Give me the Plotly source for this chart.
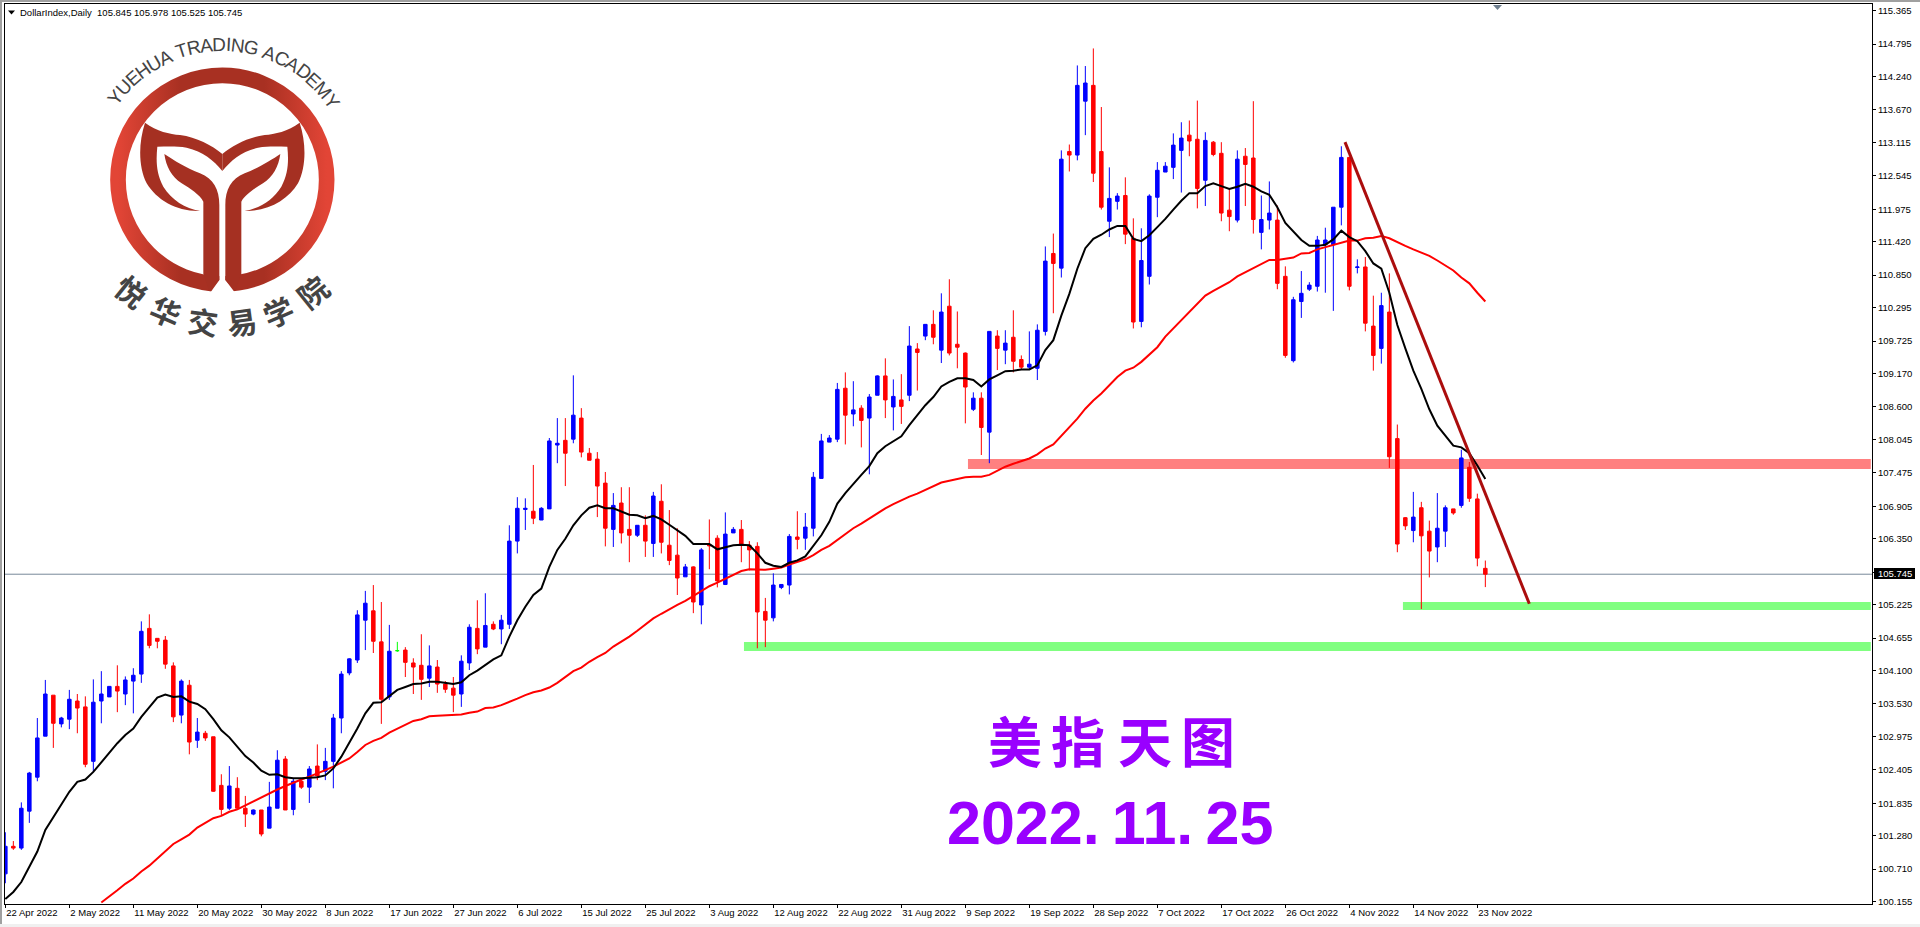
import base64, math
import plotly.graph_objects as go

# ---------- data ----------
bars = list(range(186))
opens = [
100.63,101.10,101.07,101.70,102.28,102.98,103.68,103.19,103.27,103.58,
103.48,102.55,103.58,103.65,103.83,103.70,103.92,104.04,104.82,104.65,
104.62,104.18,103.34,103.85,102.91,103.03,102.97,102.14,101.75,102.09,
101.75,101.65,101.72,101.41,101.75,102.59,101.73,102.21,102.11,102.47,
102.38,102.55,103.29,104.06,104.28,104.96,105.12,104.59,103.65,104.44,
104.45,104.23,104.19,103.97,104.16,103.87,103.80,103.70,104.23,104.82,
104.50,104.89,104.81,104.89,106.31,106.85,106.82,106.67,106.86,107.95,
108.03,108.05,108.41,107.81,107.71,107.30,106.51,106.96,106.51,106.41,
106.58,106.27,106.99,106.24,106.07,105.70,105.87,105.22,106.25,106.36,
105.57,106.45,106.51,106.24,106.22,105.11,105.00,105.52,105.56,106.38,
106.36,106.53,107.38,108.00,108.05,108.92,108.48,108.58,108.41,108.80,
109.13,108.60,108.72,108.80,109.59,109.81,110.01,109.57,110.32,109.67,
109.52,108.56,108.75,108.17,109.81,109.57,109.79,109.41,109.28,109.26,
109.89,111.22,110.97,112.96,112.90,113.82,114.09,112.96,111.77,112.11,
112.21,111.48,110.06,110.83,112.18,112.61,112.69,112.98,113.24,113.17,
112.47,113.12,112.93,111.96,111.79,112.88,112.85,111.58,111.79,111.79,
110.83,109.39,110.40,110.61,110.66,111.37,111.37,112.01,112.86,110.98,
110.99,109.98,109.60,110.22,108.06,106.71,106.49,106.88,106.48,106.21,
106.48,106.86,106.92,107.57,107.03,105.845]
highs = [
101.34,101.19,101.85,102.37,103.29,103.94,103.68,103.31,103.77,103.70,
103.66,103.95,104.09,103.83,104.19,104.00,104.14,104.94,105.06,104.65,
104.69,104.24,103.95,103.94,103.29,103.07,102.97,102.33,102.47,102.28,
101.96,101.73,101.72,102.20,102.74,102.64,102.25,102.23,102.47,102.84,
102.78,103.36,104.09,104.31,105.13,105.46,105.56,105.27,104.88,104.59,
104.50,104.31,104.72,104.53,104.28,103.92,103.99,104.36,104.89,105.30,
105.42,104.94,105.05,106.58,107.06,107.04,107.61,106.89,108.07,108.41,
108.41,109.14,108.58,107.90,107.83,107.49,107.13,107.23,107.23,106.58,
106.75,107.15,107.28,106.84,106.53,105.92,105.88,106.19,106.68,106.41,
106.80,106.55,106.67,106.31,106.29,105.34,105.76,105.57,106.43,106.82,
106.79,107.49,108.14,108.12,109.01,109.19,109.04,108.63,108.82,109.14,
109.43,109.07,109.16,109.98,109.69,110.01,110.25,110.54,110.78,110.23,
109.53,108.85,108.85,109.89,109.91,109.91,110.25,109.48,109.89,110.01,
111.34,111.56,112.98,113.08,114.43,114.42,114.72,113.72,112.69,112.25,
112.52,111.82,111.65,112.23,112.78,112.78,113.27,113.46,113.49,113.83,
113.29,113.14,113.12,112.33,112.98,113.02,113.82,112.21,112.45,112.04,
111.00,110.48,110.92,110.73,111.52,111.66,112.01,113.05,112.86,111.12,
111.16,110.50,110.55,110.88,108.30,106.72,107.15,106.98,106.66,107.13,
106.92,106.86,107.87,107.66,107.12,105.978]
lows = [
100.47,101.04,101.04,101.50,102.21,102.98,102.78,103.13,103.10,103.03,
102.45,102.37,103.20,103.65,103.39,103.51,103.37,103.89,104.48,104.48,
104.13,103.22,103.20,102.67,102.78,102.90,102.03,101.62,101.72,101.75,
101.43,101.63,101.27,101.41,101.75,101.72,101.63,102.08,101.84,102.23,
102.23,102.09,103.03,104.02,104.23,104.45,104.40,103.19,103.60,104.42,
103.99,103.70,103.60,103.82,103.72,103.72,103.39,103.48,104.11,104.38,
104.50,104.79,104.55,104.81,106.10,106.50,106.60,106.67,106.86,107.64,
107.25,107.98,107.74,107.69,106.72,106.22,106.21,106.27,105.95,106.38,
106.04,106.04,106.10,105.90,105.39,105.70,105.08,104.89,105.83,105.52,
105.56,106.45,105.95,105.81,104.48,104.50,104.94,105.49,105.40,106.17,
106.16,106.39,107.38,108.00,108.00,107.96,108.27,107.91,107.45,108.80,
108.41,108.20,108.31,108.70,108.88,109.74,109.67,109.35,109.48,109.26,
108.32,108.53,107.78,107.64,109.23,109.33,109.19,109.23,109.23,109.06,
109.82,110.20,110.81,112.62,112.81,113.24,112.44,111.97,111.50,111.97,
111.38,109.94,109.96,110.69,111.84,112.61,112.49,112.26,112.88,111.99,
112.03,112.88,111.77,111.60,111.75,112.03,111.56,111.29,111.63,110.61,
109.44,109.36,110.12,110.58,110.57,110.55,110.24,111.70,110.59,110.88,
109.89,109.22,109.34,107.56,106.12,106.50,106.29,105.15,105.69,105.95,
106.21,106.76,106.88,106.98,105.88,105.525]
closes = [
101.10,101.07,101.75,102.35,102.95,103.70,103.20,103.29,103.61,103.46,
102.50,103.56,103.70,103.83,103.75,103.94,104.02,104.77,104.53,104.60,
104.21,103.31,103.92,102.88,103.05,102.95,102.04,101.73,102.13,101.75,
101.65,101.72,101.31,101.77,102.57,101.72,102.21,102.11,102.42,102.30,
102.55,103.29,104.04,104.30,105.05,105.25,104.60,103.61,104.43,104.44,
104.24,104.16,103.95,104.18,103.87,103.78,103.68,104.26,104.84,104.47,
104.87,104.81,104.96,106.31,106.87,106.87,106.70,106.87,108.02,107.98,
107.81,108.46,107.83,107.69,107.25,106.53,106.92,106.45,106.41,106.58,
106.31,107.08,106.29,105.98,105.68,105.87,105.27,106.16,106.23,105.63,
106.43,106.51,106.24,106.16,105.10,104.96,105.56,105.57,106.39,106.34,
106.55,107.40,108.02,108.07,108.90,108.46,108.55,108.37,108.77,109.13,
108.72,108.78,108.61,109.64,109.53,110.01,109.79,110.22,109.52,109.62,
108.94,108.75,108.25,109.89,109.60,109.69,109.38,109.28,109.33,109.91,
111.09,111.05,112.83,112.90,114.09,114.13,112.59,112.01,112.16,112.20,
111.55,110.05,111.10,112.20,112.64,112.71,113.07,113.19,113.14,112.33,
113.15,112.91,111.91,111.85,112.83,112.74,111.80,111.80,111.91,110.71,
109.48,110.43,110.54,110.68,111.45,111.45,112.01,112.86,110.66,110.99,
110.03,109.48,110.33,107.75,106.26,106.57,106.72,106.40,106.14,106.53,
106.88,106.79,107.73,107.04,106.02,105.745]
doji_bars = [49]

ma_fast = [
100.20,100.32,100.49,100.75,101.01,101.38,101.60,101.83,102.03,102.20,
102.24,102.37,102.54,102.71,102.86,103.00,103.11,103.31,103.47,103.64,
103.69,103.65,103.66,103.57,103.53,103.44,103.27,103.08,102.96,102.79,
102.64,102.53,102.39,102.32,102.33,102.28,102.26,102.26,102.27,102.28,
102.31,102.43,102.63,102.86,103.11,103.37,103.55,103.56,103.67,103.77,
103.82,103.87,103.88,103.91,103.91,103.89,103.87,103.90,104.02,104.10,
104.19,104.29,104.36,104.68,104.96,105.19,105.39,105.50,105.87,106.16,
106.35,106.58,106.75,106.88,106.92,106.87,106.87,106.82,106.76,106.75,
106.70,106.74,106.68,106.59,106.50,106.40,106.26,106.26,106.26,106.17,
106.21,106.24,106.25,106.24,106.10,105.94,105.89,105.87,105.94,105.98,
106.05,106.22,106.41,106.64,106.95,107.13,107.29,107.44,107.59,107.81,
107.93,108.02,108.10,108.29,108.46,108.63,108.77,108.95,109.03,109.09,
109.09,109.06,108.95,109.07,109.14,109.21,109.22,109.24,109.24,109.31,
109.57,109.74,110.16,110.53,110.96,111.31,111.47,111.54,111.63,111.69,
111.69,111.47,111.43,111.53,111.67,111.81,111.97,112.12,112.25,112.25,
112.37,112.42,112.37,112.32,112.36,112.41,112.36,112.28,112.22,112.01,
111.74,111.59,111.45,111.35,111.35,111.37,111.46,111.61,111.50,111.43,
111.26,111.05,110.96,110.55,110.00,109.60,109.22,108.91,108.56,108.28,
108.10,107.94,107.91,107.81,107.60,107.37]
ma_slow = [None]*12 + [
100.14,100.24,100.35,100.46,100.55,100.67,100.77,100.89,
101.02,101.14,101.22,101.30,101.42,101.50,101.58,101.62,101.69,101.73,
101.80,101.87,101.94,102.00,102.07,102.13,102.19,102.24,102.29,102.34,
102.40,102.46,102.53,102.60,102.71,102.83,102.90,102.95,103.04,103.11,
103.17,103.24,103.27,103.32,103.33,103.34,103.34,103.35,103.38,103.40,
103.46,103.47,103.51,103.56,103.62,103.68,103.73,103.76,103.81,103.89,
103.99,104.09,104.15,104.25,104.33,104.40,104.51,104.59,104.68,104.78,
104.88,104.99,105.07,105.15,105.22,105.29,105.37,105.46,105.54,105.60,
105.67,105.74,105.80,105.83,105.82,105.82,105.84,105.86,105.91,105.96,
106.00,106.07,106.16,106.23,106.33,106.44,106.53,106.61,106.70,106.78,
106.87,106.94,107.01,107.07,107.12,107.18,107.25,107.31,107.34,107.37,
107.40,107.41,107.41,107.44,107.51,107.58,107.63,107.67,107.72,107.79,
107.89,107.96,108.11,108.25,108.40,108.57,108.71,108.83,108.97,109.11,
109.22,109.27,109.37,109.49,109.62,109.80,109.94,110.08,110.22,110.36,
110.50,110.58,110.66,110.73,110.83,110.90,110.97,111.04,111.11,111.11,
111.13,111.15,111.22,111.23,111.29,111.33,111.37,111.41,111.44,111.44,
111.48,111.49,111.52,111.48,111.41,111.35,111.29,111.23,111.18,111.10,
111.01,110.93,110.81,110.71,110.55,110.40]
for arr in (opens, highs, lows, closes, ma_fast, ma_slow):
    assert len(arr) == len(bars), len(arr)

trend_x = [167.46, 190.5]
trend_y = [113.12, 105.24]
bid_price = 105.745
# (first bar, price top, price bottom)
resistance_band = (120.33, 107.712, 107.541)
support_band_a = (174.7, 105.27, 105.134)
support_band_b = (92.33, 104.588, 104.435)

date_ticks = list(range(0, 186, 8))
date_labels = ["22 Apr 2022","2 May 2022","11 May 2022","20 May 2022","30 May 2022","8 Jun 2022",
               "17 Jun 2022","27 Jun 2022","6 Jul 2022","15 Jul 2022","25 Jul 2022","3 Aug 2022",
               "12 Aug 2022","22 Aug 2022","31 Aug 2022","9 Sep 2022","19 Sep 2022","28 Sep 2022",
               "7 Oct 2022","17 Oct 2022","26 Oct 2022","4 Nov 2022","14 Nov 2022","23 Nov 2022"]
price_ticks = [115.365,114.795,114.240,113.670,113.115,112.545,111.975,111.420,110.850,110.295,
               109.725,109.170,108.600,108.045,107.475,106.905,106.350,105.780,105.225,104.655,
               104.100,103.530,102.975,102.405,101.835,101.280,100.710,100.155]

# ---------- page geometry ----------
W, H = 1920, 927
L, R, T, B = 5, 1872, 4, 904
xp = lambda x: (x - L) / (R - L)
yp = lambda y: (B - y) / (B - T)
BAR0, STEP = 5.33, 8.0
XMAX = (R - BAR0) / STEP
XMIN = (L - BAR0) / STEP
PX_PRICE = 15.21 / 891.0
YMAX = 115.365 + (10.67 - T) * PX_PRICE
YMIN = 115.365 - (B - 10.67) * PX_PRICE
UI = "Liberation Sans"

# ---------- logo picture (ring and leaves only; its words are text below) ----------
left_half = ("M435,368 C470,395 510,402 540,405 C590,412 635,435 667,462 L667,513 "
             "C640,480 610,455 560,443 C530,438 500,440 472,440 C468,480 468,520 490,560 "
             "C515,600 555,625 600,633 C530,635 470,600 440,550 C415,500 415,430 435,368 Z "
             "M493,462 C520,480 560,505 600,520 C640,535 658,570 658,615 L658,840 L628,873 "
             "L610,822 L610,605 C600,585 570,565 545,550 C515,530 498,500 493,462 Z")
logo_svg = f"""<svg xmlns='http://www.w3.org/2000/svg' width='1080' height='1020' viewBox='0 0 1080 1020'>
<defs><linearGradient id='g' x1='0' x2='1' y1='0' y2='0'>
<stop offset='0' stop-color='#e24536'/><stop offset='0.3' stop-color='#a83022'/>
<stop offset='0.7' stop-color='#a83022'/><stop offset='1' stop-color='#e24536'/></linearGradient></defs>
<circle cx='667' cy='539' r='313' fill='none' stroke='url(#g)' stroke-width='47'/>
<polygon points='658,600 676,600 676,840 708,882 628,882 658,840' fill='#ffffff'/>
<path d='{left_half}' fill='#a53022'/>
<g transform='translate(1334,0) scale(-1,1)'><path d='{left_half}' fill='#a53022'/></g>
</svg>"""
logo_uri = "data:image/svg+xml;base64," + base64.b64encode(logo_svg.encode()).decode()

fig = go.Figure()

main = [i for i in bars if i not in doji_bars]
fig.add_trace(go.Candlestick(
    x=main, open=[opens[i] for i in main], high=[highs[i] for i in main],
    low=[lows[i] for i in main], close=[closes[i] for i in main],
    increasing=dict(line=dict(color="#0000ff", width=1), fillcolor="#0000ff"),
    decreasing=dict(line=dict(color="#ff0000", width=1), fillcolor="#ff0000"),
    whiskerwidth=0, showlegend=False, hoverinfo="skip"))
fig.add_trace(go.Candlestick(
    x=doji_bars, open=[opens[i] for i in doji_bars], high=[highs[i] for i in doji_bars],
    low=[lows[i] for i in doji_bars], close=[closes[i] for i in doji_bars],
    increasing=dict(line=dict(color="#00ff00", width=1), fillcolor="#00ff00"),
    decreasing=dict(line=dict(color="#00ff00", width=1), fillcolor="#00ff00"),
    whiskerwidth=0, showlegend=False, hoverinfo="skip"))
fig.add_trace(go.Scatter(x=bars, y=ma_slow, mode="lines", line=dict(color="#ff0000", width=2),
                         showlegend=False, hoverinfo="skip"))
fig.add_trace(go.Scatter(x=bars, y=ma_fast, mode="lines", line=dict(color="#000000", width=2),
                         showlegend=False, hoverinfo="skip"))
fig.add_trace(go.Scatter(x=trend_x, y=trend_y, mode="lines", line=dict(color="#ab0d0d", width=3),
                         showlegend=False, hoverinfo="skip"))

shapes = []
for band, col in ((resistance_band, "#ff8080"), (support_band_a, "#80ff80"), (support_band_b, "#80ff80")):
    shapes.append(dict(type="rect", xref="x", yref="y", x0=band[0], x1=XMAX - 0.15, y0=band[2], y1=band[1],
                       fillcolor=col, line=dict(width=0), layer="below"))
shapes.append(dict(type="line", xref="paper", yref="y", x0=0, x1=1, y0=bid_price, y1=bid_price,
                   line=dict(color="#778899", width=1), layer="below"))


def frame(x0, y0, x1, y1, col):
    return dict(type="rect", xref="paper", yref="paper", x0=xp(x0), x1=xp(x1), y0=yp(y0), y1=yp(y1),
                fillcolor=col, line=dict(width=0), layer="above")


shapes += [frame(0, 0, W, 2, "#a0a0a0"), frame(0, 0, 2, H, "#a0a0a0"), frame(0, 924, W, H, "#f0f0f0"),
           frame(1874, 568, 1915, 579, "#000000")]


def tri(pts, col):
    path = "M" + " L".join(f"{xp(a)},{yp(b)}" for a, b in pts) + " Z"
    return dict(type="path", xref="paper", yref="paper", path=path, fillcolor=col, line=dict(width=0), layer="above")


shapes += [tri([(1493, 5), (1502, 5), (1497.5, 10)], "#708090"), tri([(8, 10.5), (15, 10.5), (11.5, 14.5)], "#000000")]

ann = []


def put(text, x, y, size, color="#000000", family=UI, weight=None, angle=0, anchor="center"):
    font = dict(size=size, color=color, family=family)
    if weight:
        font["weight"] = weight
    ann.append(dict(text=text, xref="paper", yref="paper", x=xp(x), y=yp(y), xanchor=anchor, yanchor="middle",
                    showarrow=False, font=font, textangle=angle, borderpad=0, borderwidth=0))


put("DollarIndex,Daily\u00a0\u00a0105.845 105.978 105.525 105.745", 20, 12.5, 9.5, anchor="left")
put("105.745", 1895, 573.5, 9.5, color="#ffffff")

# logo words, placed along arcs
cx, cy = 222.3, 179.7
word = "YUEHUA TRADING ACADEMY"
em = {"Y":.667,"U":.722,"E":.667,"H":.722,"A":.667," ":.278,"T":.611,"R":.722,"D":.722,"I":.278,"N":.722,"G":.778,"C":.722,"M":.833}
total = sum(em[c] for c in word)
pos = 0.0
for c in word:
    a = -55 + 112 * (pos + em[c] / 2) / total
    pos += em[c]
    if c != " ":
        th = math.radians(a)
        put(c, cx + 135 * math.sin(th), cy - 135 * math.cos(th), 19, color="#444444", angle=a)
for c, a in zip("悦华交易学院", (39, 23, 7.7, -7.8, -23, -39)):
    th = math.radians(a)
    put(c, cx - 143 * math.sin(th), cy + 143 * math.cos(th), 30, color="#444444",
        family="Noto Sans CJK SC", weight=700, angle=a)

# purple caption
for c, x in zip("美指天图", (1015, 1078, 1145, 1208)):
    put(c, x, 739, 54, color="#9900ff", family="Noto Sans CJK SC", weight=700)
put("2022.\u200911.\u200925", 947, 823, 61, color="#9900ff", family="Liberation Sans", weight=700, anchor="left")

fig.update_layout(
    width=W, height=H, autosize=False, margin=dict(l=L, r=W - R, t=T, b=H - B, pad=0),
    paper_bgcolor="#ffffff", plot_bgcolor="#ffffff", boxgap=0.375, boxmode="overlay", showlegend=False,
    shapes=shapes, annotations=ann,
    images=[dict(source=logo_uri, xref="paper", yref="paper", x=xp(0), y=yp(0), sizex=360 / (R - L),
                 sizey=340 / (B - T), xanchor="left", yanchor="top", sizing="stretch", layer="below")],
    xaxis=dict(range=[XMIN, XMAX], rangeslider=dict(visible=False), showgrid=False, zeroline=False,
               tickmode="array", tickvals=date_ticks, ticktext=date_labels, ticks="outside", ticklen=3,
               tickcolor="#000000", showline=True, linecolor="#000000", linewidth=1, mirror=True,
               ticklabelposition="outside right", tickfont=dict(family=UI, size=9.5, color="#000000")),
    yaxis=dict(range=[YMIN, YMAX], side="right", showgrid=False, zeroline=False, tickmode="array",
               tickvals=price_ticks, ticktext=[f"{v:.3f}" for v in price_ticks], ticks="outside", ticklen=3,
               tickcolor="#000000", showline=True, linecolor="#000000", linewidth=1, mirror=True,
               tickfont=dict(family=UI, size=9.5, color="#000000")),
)
fig.write_html("out.html", config=dict(displayModeBar=False),
               post_script="document.body.style.margin='0';document.body.style.overflow='hidden';")
